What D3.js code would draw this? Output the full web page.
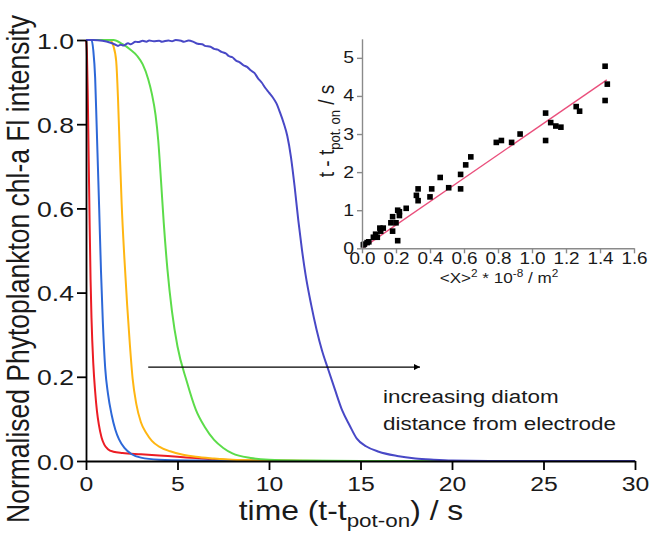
<!DOCTYPE html>
<html>
<head>
<meta charset="utf-8">
<script src="https://cdn.jsdelivr.net/npm/d3@7"></script>
<style>
html,body{margin:0;padding:0;background:#fff;}
svg{display:block;}
text{font-family:"Liberation Sans",Arial,Helvetica,sans-serif;fill:#1a1a1a;}
</style>
</head>
<body>
<svg id="chart" width="650" height="537"></svg>
<script>
// ---------------- DATA ----------------
// main chart: [time (s), normalised intensity]
const redCurve = [[0,1],[0.05,0.97],[0.1,0.86],[0.15,0.71],[0.2,0.56],[0.25,0.43],[0.3,0.34],[0.4,0.23],[0.5,0.165],[0.6,0.118],[0.7,0.087],[0.85,0.056],[1.0,0.039],[1.2,0.028],[1.5,0.022],[2,0.019],[3,0.016],[4,0.013],[5,0.01],[6,0.007],[7,0.004],[8,0.002],[9,0.001],[12,0],[30,0]];
const blueCurve = [[0,1],[0.3,1],[0.4,0.975],[0.5,0.91],[0.58,0.8],[0.65,0.7],[0.72,0.6],[0.82,0.45],[0.92,0.33],[1.05,0.22],[1.2,0.16],[1.4,0.11],[1.6,0.075],[1.8,0.052],[2.1,0.031],[2.5,0.016],[3,0.008],[4,0.003],[6,0.001],[9,0],[30,0]];
const orangeCurve = [[0,1],[1.3,1],[1.5,0.985],[1.65,0.95],[1.75,0.86],[1.85,0.73],[1.95,0.61],[2.1,0.48],[2.25,0.37],[2.4,0.275],[2.55,0.195],[2.75,0.135],[3,0.092],[3.3,0.066],[3.6,0.048],[4,0.034],[4.6,0.023],[5.3,0.015],[6,0.01],[7,0.006],[8,0.003],[10,0.001],[13,0],[30,0]];
const greenCurve = [[0,1],[1.5,1],[2.0,0.99],[2.4,0.978],[2.8,0.962],[3.1,0.942],[3.4,0.907],[3.6,0.872],[3.8,0.822],[3.95,0.76],[4.1,0.665],[4.25,0.565],[4.45,0.455],[4.7,0.355],[5.0,0.272],[5.5,0.19],[6.0,0.122],[6.5,0.08],[7,0.05],[7.5,0.031],[8,0.018],[9,0.007],[10,0.003],[12,0.001],[15,0],[30,0]];
const purpleCurve = [[0,1],[0.4,1],[0.9,0.998],[1.3,0.994],[1.55,0.99],[1.75,0.986],[1.9,0.989],[2.05,0.987],[2.3,0.992],[2.45,0.99],[2.7,0.996],[2.85,0.995],[3.1,0.998],[3.3,0.996],[3.45,0.999],[3.7,0.997],[4.0,0.998],[4.15,0.996],[4.5,0.999],[4.7,0.997],[4.9,1.0],[5.2,0.998],[5.35,0.996],[5.6,0.999],[5.9,0.995],[6.1,0.991],[6.35,0.99],[6.5,0.986],[6.8,0.984],[7.0,0.979],[7.2,0.977],[7.4,0.972],[7.65,0.968],[7.8,0.962],[8.0,0.959],[8.2,0.951],[8.4,0.947],[8.6,0.94],[8.8,0.936],[9.0,0.928],[9.2,0.922],[9.4,0.909],[9.6,0.899],[9.8,0.886],[10.0,0.875],[10.2,0.864],[10.4,0.85],[10.6,0.828],[10.8,0.803],[11.0,0.772],[11.2,0.722],[11.4,0.652],[11.6,0.572],[11.8,0.502],[12.0,0.442],[12.3,0.372],[12.6,0.312],[12.9,0.262],[13.2,0.222],[13.6,0.17],[14.0,0.12],[14.4,0.085],[14.8,0.053],[15.3,0.035],[16,0.022],[17,0.012],[18,0.006],[19,0.003],[20,0.001],[22,0],[30,0]];
const curveNames = ["red","blue","orange","green","purple"];
const curveColors = ["#ec1c24","#2d68d8","#ffb612","#5cdc4a","#4848c6"];

const xMainTicks = [0,5,10,15,20,25,30];
const xMainMinor = [2.5,7.5,12.5,17.5,22.5,27.5];
const yMainTicks = [0,0.2,0.4,0.6,0.8,1.0];
const yMainMinor = [0.1,0.3,0.5,0.7,0.9];

// inset: <X>^2 * 1e-8 (m^2)  vs  t - t_pot.on (s)
const scatterX = [1.43,1.443,1.43,1.26,1.28,1.08,1.11,1.14,1.17,1.08,0.93,0.88,0.82,0.79,0.64,0.61,0.58,0.58,0.51,0.46,0.41,0.40,0.33,0.32,0.33,0.26,0.22,0.21,0.22,0.18,0.20,0.17,0.18,0.21,0.125,0.105,0.11,0.08,0.067,0.09,0.04,0.03,0.014,0.008];
const scatterY = [4.78,4.31,3.88,3.72,3.6,3.55,3.3,3.21,3.18,2.83,3.0,2.78,2.83,2.78,2.4,2.19,1.94,1.56,1.59,1.86,1.56,1.35,1.56,1.39,1.25,1.05,0.96,1.0,0.86,0.83,0.67,0.67,0.45,0.2,0.53,0.53,0.45,0.37,0.29,0.29,0.17,0.15,0.11,0.09];
const fitSlope = 3.07, fitIntercept = 0.0, fitRange = [0.0, 1.44];
const xInsetTicks = [0,0.2,0.4,0.6,0.8,1.0,1.2,1.4,1.6];
const xInsetMinor = [0.1,0.3,0.5,0.7,0.9,1.1,1.3,1.5];
const yInsetTicks = [0,1,2,3,4,5];
const yInsetMinor = [0.5,1.5,2.5,3.5,4.5];

// annotation (data coordinates of main chart)
const arrowFrom = [3.4,0.223], arrowTo = [18.25,0.223];
const noteLines = ["increasing diatom","distance from electrode"];
const notePos = [[16.23,0.138],[16.23,0.074]];

// ---------------- DRAW ----------------
const SX = 1.18; // horizontal stretch of glyphs in the reference
const svg = d3.select("#chart");

const x = d3.scaleLinear().domain([0,30]).range([86,635]);
const y = d3.scaleLinear().domain([0,1]).range([461,40]);

function stretchText(sel, tx, ty, rot) {
  sel.attr("transform", `translate(${tx},${ty}) scale(${SX},1)` + (rot ? ` rotate(${rot})` : ""));
}

// curves
const line = d3.line().x(d => x(d[0])).y(d => y(d[1])).curve(d3.curveMonotoneX);
const curves = [redCurve, blueCurve, orangeCurve, greenCurve, purpleCurve];
const gCurves = svg.append("g");
[0,1,2,3,4].forEach(i => {
  gCurves.append("path").datum(curves[i])
    .attr("fill","none").attr("stroke",curveColors[i]).attr("stroke-width",2)
    .attr("stroke-linejoin","round").attr("d", line);
});

// main axes
const gx = svg.append("g").attr("transform",`translate(0,${y(0)})`);
gx.call(d3.axisBottom(x).tickValues(xMainMinor).tickSize(5).tickSizeOuter(0).tickFormat(""));
gx.call(d3.axisBottom(x).tickValues(xMainTicks).tickSize(9).tickSizeOuter(0).tickFormat(d3.format("d")));
gx.selectAll("path,line").attr("stroke","#000").attr("stroke-width",1.8);
gx.selectAll("text").attr("dy",null).attr("y",null).attr("fill","#1a1a1a")
  .attr("font-size",21).attr("text-anchor","middle")
  .each(function(){ stretchText(d3.select(this), 0, 30); });

const gy = svg.append("g").attr("transform",`translate(${x(0)},0)`);
gy.call(d3.axisLeft(y).tickValues(yMainMinor).tickSize(5).tickSizeOuter(0).tickFormat(""));
gy.call(d3.axisLeft(y).tickValues(yMainTicks).tickSize(9).tickSizeOuter(0).tickFormat(d3.format(".1f")));
gy.selectAll("path,line").attr("stroke","#000").attr("stroke-width",1.8);
gy.selectAll("text").attr("dy",null).attr("x",null).attr("fill","#1a1a1a")
  .attr("font-size",22.5).attr("text-anchor","end")
  .each(function(){ stretchText(d3.select(this), -12, 8); });

// axis titles
const xt = svg.append("text").attr("font-size",27).attr("text-anchor","middle");
stretchText(xt, 351, 520);
xt.append("tspan").text("time (t-t");
xt.append("tspan").attr("font-size",19).attr("dy",7).text("pot-on");
xt.append("tspan").attr("dy",-7).text(") / s");

const yt = svg.append("text").attr("font-size",26.5).attr("text-anchor","middle")
  .text("Normalised Phytoplankton chl-a Fl intensity");
stretchText(yt, 29, 269, -90);

// annotation arrow
svg.append("defs").append("marker").attr("id","ah").attr("viewBox","0 0 10 10")
  .attr("refX",10).attr("refY",5).attr("markerWidth",10).attr("markerHeight",6)
  .attr("markerUnits","userSpaceOnUse").attr("orient","auto")
  .append("path").attr("d","M0,0L10,5L0,10Z").attr("fill","#000");
svg.append("line").attr("x1",x(arrowFrom[0])).attr("y1",y(arrowFrom[1]))
  .attr("x2",x(arrowTo[0])).attr("y2",y(arrowTo[1]))
  .attr("stroke","#000").attr("stroke-width",1.3).attr("marker-end","url(#ah)");
noteLines.forEach((s,i) => {
  const t = svg.append("text").attr("font-size",19).text(s);
  stretchText(t, x(notePos[i][0]), y(notePos[i][1]));
});

// ---------------- INSET ----------------
const xi = d3.scaleLinear().domain([0,1.6]).range([362,634]);
const yi = d3.scaleLinear().domain([0,5.5]).range([248.3,38.8]);
const axisGrey = "#8a8a8a";

const gi = svg.append("g");
gi.append("line").attr("x1",xi(fitRange[0])).attr("y1",yi(fitIntercept+fitSlope*fitRange[0]))
  .attr("x2",xi(fitRange[1])).attr("y2",yi(fitIntercept+fitSlope*fitRange[1]))
  .attr("stroke","#ea4f7c").attr("stroke-width",1.4);
gi.selectAll("rect.pt").data(scatterX.map((v,i)=>[v,scatterY[i]])).enter()
  .append("rect").attr("class","pt")
  .attr("x",d=>xi(d[0])-2.8).attr("y",d=>yi(d[1])-2.8)
  .attr("width",5.6).attr("height",5.6).attr("fill","#000");

const gxi = gi.append("g").attr("transform",`translate(0,${yi(0)})`);
gxi.call(d3.axisBottom(xi).tickValues(xInsetMinor).tickSize(3).tickSizeOuter(0).tickFormat(""));
gxi.call(d3.axisBottom(xi).tickValues(xInsetTicks).tickSize(5).tickSizeOuter(0).tickFormat(d3.format(".1f")));
gxi.selectAll("path,line").attr("stroke",axisGrey).attr("stroke-width",1.4);
gxi.selectAll("text").attr("dy",null).attr("y",null).attr("fill","#1a1a1a")
  .attr("font-size",16).attr("text-anchor","middle")
  .each(function(){ stretchText(d3.select(this), 0, 16); });

const gyi = gi.append("g").attr("transform",`translate(${xi(0)},0)`);
gyi.call(d3.axisLeft(yi).tickValues(yInsetMinor).tickSize(3).tickSizeOuter(0).tickFormat(""));
gyi.call(d3.axisLeft(yi).tickValues(yInsetTicks).tickSize(5).tickSizeOuter(0).tickFormat(d3.format("d")));
gyi.selectAll("path,line").attr("stroke",axisGrey).attr("stroke-width",1.4);
gyi.selectAll("text").attr("dy",null).attr("x",null).attr("fill","#1a1a1a")
  .attr("font-size",16.5).attr("text-anchor","end")
  .each(function(){ stretchText(d3.select(this), -8, 5); });

// inset titles
const xit = gi.append("text").attr("font-size",14.5).attr("text-anchor","middle");
stretchText(xit, 499, 283);
xit.append("tspan").text("<X>");
xit.append("tspan").attr("font-size",10).attr("dy",-6).text("2");
xit.append("tspan").attr("dy",6).text(" * 10");
xit.append("tspan").attr("font-size",10).attr("dy",-6).text("-8");
xit.append("tspan").attr("dy",6).text(" / m");
xit.append("tspan").attr("font-size",10).attr("dy",-6).text("2");

const yit = gi.append("text").attr("font-size",19).attr("text-anchor","middle");
stretchText(yit, 334, 131, -90);
yit.append("tspan").text("t - t");
yit.append("tspan").attr("font-size",13).attr("dy",5).text("pot. on");
yit.append("tspan").attr("dy",-5).text(" / s");
</script>
</body>
</html>
